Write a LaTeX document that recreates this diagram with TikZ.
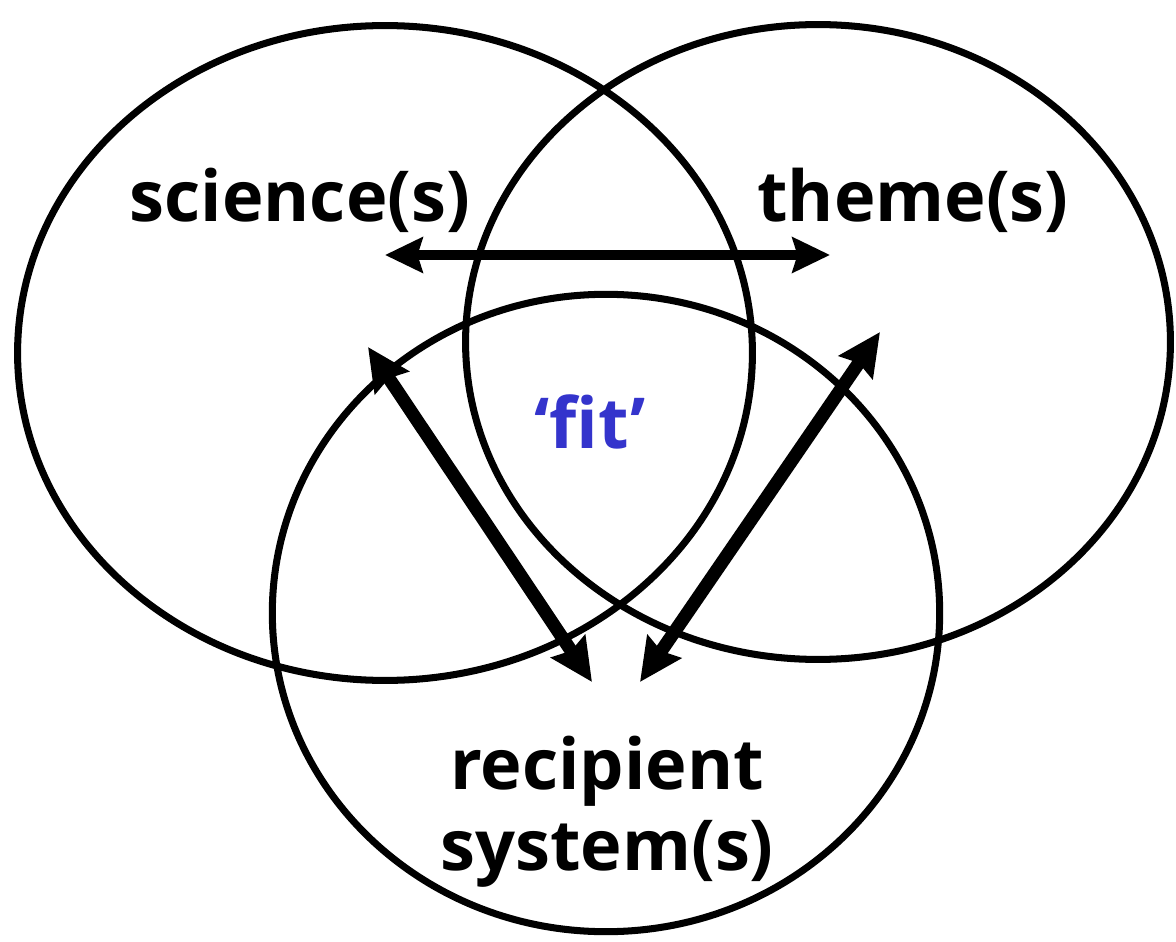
\documentclass[tikz,border=0pt]{standalone}
\usepackage{fontspec}
\setmainfont{Open Sans}
\usepackage{xcolor}
\usetikzlibrary{arrows.meta,shapes.geometric}
\definecolor{fitblue}{RGB}{52,52,204}

\begin{document}
\begin{tikzpicture}[
  x=0.02cm, y=-0.02cm,
  ring/.style={draw, line width=4pt, ellipse, inner sep=0pt},
  lbl/.style={font=\fontsize{40}{46}\selectfont\bfseries, align=center},
  arr/.style={{Stealth[length=7.5mm,width=7mm,inset=1mm]}-{Stealth[length=7.5mm,width=7mm,inset=1mm]}, line width=6pt},
  darr/.style={{Stealth[length=8.5mm,width=8mm,inset=1mm]}-{Stealth[length=8.5mm,width=8mm,inset=1mm]}, line width=7.5pt}
]
\useasboundingbox (0,0) rectangle (1176,942);
% three sets
\node[ring, minimum width=14.7cm, minimum height=13.1cm] (sci) at (385,353) {};
\node[ring, minimum width=14.1cm, minimum height=12.7cm] (thm) at (818,342) {};
\node[ring, minimum width=13.35cm, minimum height=12.75cm] (rec) at (606,613) {};
% labels
\node[lbl] (scit) at (300,200) {science(s)};
\node[lbl] (thmt) at (913,200) {theme(s)};
\node[lbl, text=fitblue] (fit) at (590,422) {‘fit’};
\node[lbl] (rect) at (607,812) {recipient\\system(s)};
% arrow ends
\coordinate (hl) at (385,255);
\coordinate (hr) at (830,255);
\coordinate (dl) at (368,347);
\coordinate (dlb) at (592,682);
\coordinate (dr) at (880,332);
\coordinate (drb) at (640,682);
\draw[arr] (hl)--(hr);
\draw[darr] (dl)--(dlb);
\draw[darr] (dr)--(drb);
\end{tikzpicture}
\end{document}
